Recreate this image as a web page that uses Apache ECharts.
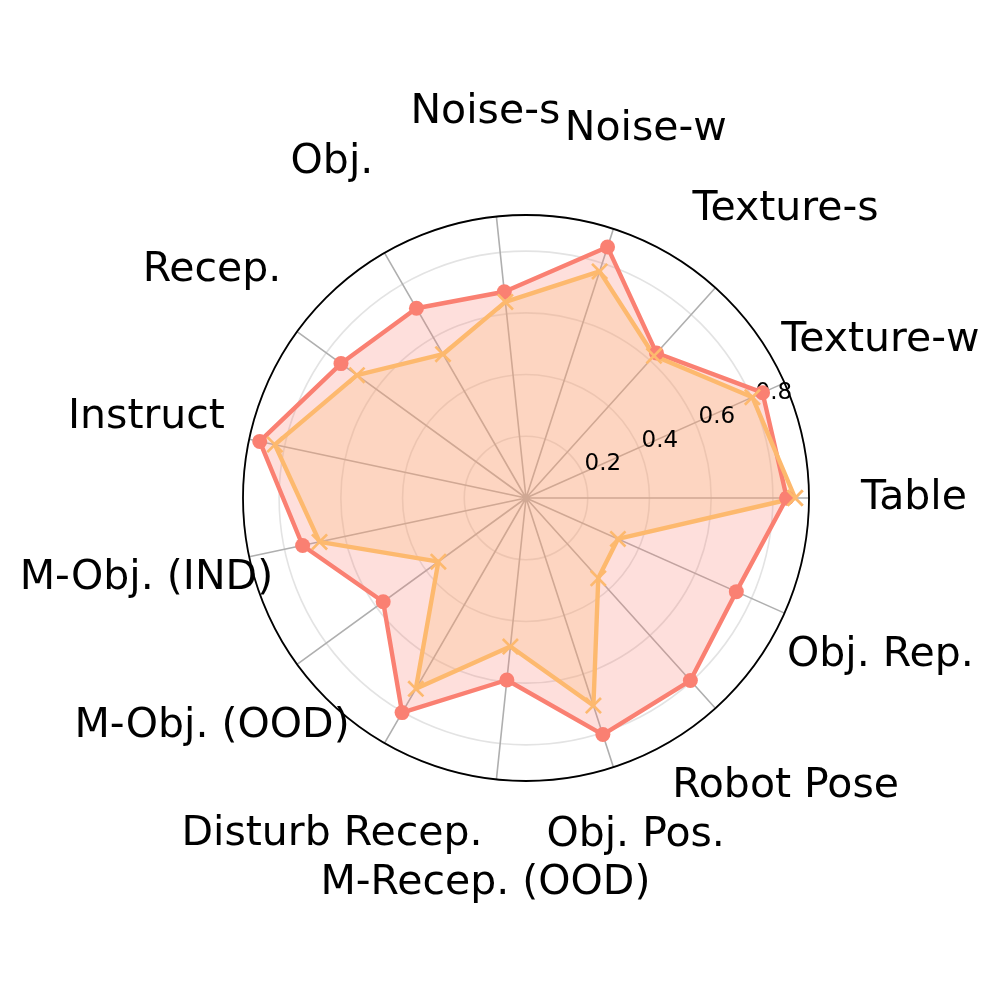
<!DOCTYPE html>
<html>
<head>
<meta charset="utf-8">
<script src="https://cdn.jsdelivr.net/npm/echarts@6/dist/echarts.min.js"></script>
<style>
    html, body { margin: 0; padding: 0; background: #fff; }
    #chart { width: 996px; height: 996px; }
</style>
</head>
<body>
<div id="chart"></div>
<script>
// axis names, counter-clockwise starting from the right
var categories = ['Table', 'Texture-w', 'Texture-s', 'Noise-w', 'Noise-s', 'Obj.', 'Recep.', 'Instruct',
    'M-Obj. (IND)', 'M-Obj. (OOD)', 'Disturb Recep.', 'M-Recep. (OOD)', 'Obj. Pos.', 'Robot Pose', 'Obj. Rep.'];
var redValues = [0.845, 0.839, 0.632, 0.855, 0.672, 0.710, 0.741, 0.882, 0.740, 0.572, 0.803, 0.593, 0.806, 0.796, 0.746];
var orangeValues = [0.872, 0.803, 0.620, 0.772, 0.639, 0.538, 0.677, 0.832, 0.684, 0.351, 0.714, 0.484, 0.707, 0.350, 0.326];
var radiusTicks = [0.2, 0.4, 0.6, 0.8];
var rMax = 0.917;

var chart = echarts.init(document.getElementById('chart'));
var step = 360 / categories.length;
var center = [526, 498];
var radius = 283;
var font = 'DejaVu Sans';
var red = '#FA8072';
var orange = '#FDB96E';

// name labels sit outside the circle; one of them was pulled in a bit
var nameDist = 1.371;
var nameDistFix = { 'Obj. Pos.': 0.915 };

// [r, angle] pairs, closed back to the first point
function toPolar(values) {
    var pts = values.map(function (v, i) { return [v, i * step]; });
    pts.push([values[0], 360]);
    return pts;
}

// X marker as a filled path
var xMarker = 'path://M0,1.1L1.1,0L5,3.9L8.9,0L10,1.1L6.1,5L10,8.9L8.9,10L5,6.1L1.1,10L0,8.9L3.9,5Z';

function areaSeries(values, color) {
    return {
        type: 'line',
        coordinateSystem: 'polar',
        polarIndex: 0,
        z: 1,
        silent: true,
        data: toPolar(values),
        symbol: 'none',
        lineStyle: { width: 0, opacity: 0 },
        areaStyle: { color: color, opacity: 0.25 }
    };
}

function lineSeries(values, color, symbol, size) {
    return {
        type: 'line',
        coordinateSystem: 'polar',
        polarIndex: 0,
        z: 3,
        data: toPolar(values),
        symbol: symbol,
        symbolSize: size,
        color: color,
        lineStyle: { width: 4.4, color: color },
        itemStyle: { color: color }
    };
}

var option = {
    backgroundColor: '#fff',
    animation: false,
    polar: [
        { center: center, radius: radius },
        { center: center, radius: radius }
    ],
    angleAxis: [{
        polarIndex: 0,
        type: 'value',
        min: 0,
        max: 360,
        interval: step,
        startAngle: 0,
        clockwise: false,
        axisLine: { lineStyle: { color: '#000', width: 1.8 } },
        axisTick: { show: false },
        axisLabel: { show: false },
        splitLine: { show: true, lineStyle: { color: '#afafaf', width: 1.6 } }
    }, {
        polarIndex: 1,
        type: 'value',
        min: 0,
        max: 360,
        startAngle: 22.5,
        clockwise: false,
        show: false
    }],
    radiusAxis: [{
        polarIndex: 0,
        type: 'value',
        min: 0,
        max: rMax,
        interval: 0.2,
        axisLine: { show: false },
        axisTick: { show: false },
        axisLabel: { show: false },
        splitLine: { show: true, lineStyle: { color: '#e3e3e3', width: 1.6 } }
    }, {
        polarIndex: 1,
        type: 'value',
        min: 0,
        max: rMax,
        interval: 0.2,
        z: 2,
        axisLine: { show: false },
        axisTick: { show: false },
        splitLine: { show: false },
        axisLabel: {
            margin: 11,
            align: 'center',
            verticalAlign: 'middle',
            padding: [0, 0, 0, 48],
            fontSize: 23,
            fontFamily: font,
            color: '#000',
            formatter: function (v) {
                for (var i = 0; i < radiusTicks.length; i++) {
                    if (Math.abs(radiusTicks[i] - v) < 1e-6) return radiusTicks[i].toFixed(1);
                }
                return '';
            }
        }
    }],
    series: [
        areaSeries(redValues, red),
        lineSeries(redValues, red, 'circle', 15),
        areaSeries(orangeValues, orange),
        lineSeries(orangeValues, orange, xMarker, 17),
        {
            // category names around the circle
            name: 'names',
            type: 'scatter',
            coordinateSystem: 'polar',
            polarIndex: 0,
            z: 3,
            clip: false,
            silent: true,
            symbolSize: 0.1,
            itemStyle: { color: 'rgba(0,0,0,0)' },
            data: categories.map(function (c, i) {
                return [rMax * nameDist * (nameDistFix[c] || 1), i * step];
            }),
            label: {
                show: true,
                position: [0, 0],
                align: 'center',
                verticalAlign: 'middle',
                fontSize: 41,
                fontFamily: font,
                color: '#000000',
                opacity: 1,
                textBorderWidth: 0,
                formatter: function (p) { return categories[p.dataIndex]; }
            }
        }
    ]
};
chart.setOption(option);
</script>
</body>
</html>
